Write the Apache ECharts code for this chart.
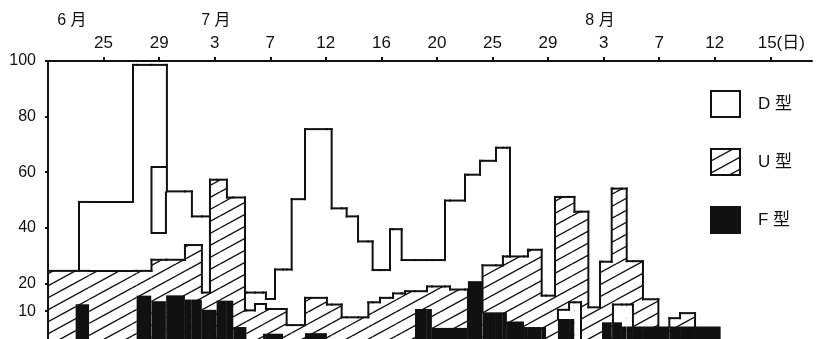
<!DOCTYPE html>
<html><head><meta charset="utf-8">
<script src="https://cdn.jsdelivr.net/npm/echarts@6/dist/echarts.min.js"></script>
<style>html,body{margin:0;padding:0;background:#fff}#c{width:823px;height:339px}</style>
</head><body><div id="c"></div>
<script>
// ---- axis labels (x unit: the figure's evenly spaced time scale, labelled tick every 4 units)
const tickValues = [0, 4, 8, 12, 16, 20, 24, 28, 32, 36, 40, 44, 48];
const tickLabels = ['25', '29', '3', '7', '12', '16', '20', '25', '29', '3', '7', '12', '15(日)'];
const monthValues = [-2.28, 8.09, 35.74];
const monthLabels = ['6 月', '7 月', '8 月'];
const yTickValues = [10, 20, 40, 60, 80, 100];

// ---- D型 (%): step boundaries and values per step (null = none)
const dX = [-1.77, 2.12, 4.56, 6.36, 7.66, 10.18, 11.69, 12.34, 13.54, 14.50, 16.42, 17.50, 18.32, 19.37, 20.62, 21.46, 24.58, 26.02, 27.10, 28.25, 29.26, 32.71, 33.51, 34.37, 36.67, 38.11];
const dV = [49.3, 98.6, 53.1, 44.1, null, 16.7, 14.4, 25.0, 50.3, 75.5, 47.0, 44.1, 35.1, 24.8, 39.5, 28.4, 49.8, 59.1, 64.1, 68.8, null, 10.5, 13.2, null, 12.4];
// overlapping D trace around late June
const dNotchX = [4.56, 3.45, 3.45, 4.49, 4.49];
const dNotchY = [61.9, 61.9, 38.1, 38.1, 53.1];

// ---- U型 (%)
const uX = [-4.0, 3.45, 5.86, 7.08, 7.66, 8.88, 10.18, 10.90, 11.69, 13.18, 14.50, 16.08, 17.14, 19.06, 19.90, 20.84, 21.70, 23.28, 24.94, 26.23, 27.28, 28.75, 30.55, 31.54, 32.50, 33.90, 34.90, 35.74, 36.58, 37.66, 38.83, 39.94, 40.73, 41.50, 42.58];
const uV = [24.5, 28.5, 33.8, 16.7, 57.3, 50.9, 10.3, 12.6, 10.8, 5.0, 14.8, 12.4, 7.8, 13.2, 14.8, 16.4, 17.2, 18.9, 17.8, null, 26.5, 29.7, 32.1, 15.6, 51.1, 45.8, 11.4, 27.8, 54.1, 28.0, 14.3, null, 7.5, 9.3];

// ---- F型 (%)
const fX = [-2.01, -1.03, 2.38, 3.45, 4.49, 5.86, 7.08, 8.14, 9.34, 10.30, 11.48, 12.92, 14.50, 16.08, 22.42, 23.64, 26.23, 27.28, 29.04, 30.27, 31.85, 32.71, 33.90, 35.88, 37.32, 44.38];
const fV = [12.5, null, 15.6, 13.6, 15.7, 14.2, 10.5, 13.8, 4.3, null, 1.9, null, 2.1, null, 10.8, 4.0, 20.8, 9.6, 6.3, 4.3, null, 7.2, null, 6.0, 4.5];

// ---- hatch pattern
function makeHatch() {
  const W = 44, H = 24, s = 12;
  const c = document.createElement('canvas');
  c.width = W; c.height = H;
  const g = c.getContext('2d');
  g.fillStyle = '#fff'; g.fillRect(0, 0, W, H);
  g.strokeStyle = '#111'; g.lineWidth = 1.4;
  for (let k = -2; k <= 3; k++) {
    g.beginPath(); g.moveTo(0, H + s * k); g.lineTo(W, s * k); g.stroke();
  }
  return c;
}
const hatch = { image: makeHatch(), repeat: 'repeat' };

// ---- build elementary steps
function valAt(xs, vs, x) {
  for (let i = 0; i < vs.length; i++) if (x > xs[i] && x < xs[i + 1]) return vs[i];
  return null;
}
const bps = Array.from(new Set([].concat(dX, uX, fX))).sort((a, b) => a - b);
const segs = [];
for (let i = 0; i < bps.length - 1; i++) {
  const m = (bps[i] + bps[i + 1]) / 2;
  segs.push({ a: bps[i], b: bps[i + 1], v: { D: valAt(dX, dV, m), U: valAt(uX, uV, m), F: valAt(fX, fV, m) } });
}
function edgeLines(S) {
  const out = [];
  for (let k = 0; k < bps.length; k++) {
    const L = k > 0 ? segs[k - 1] : null, R = k < segs.length ? segs[k] : null;
    const vl = L && L.v[S] != null ? L.v[S] : 0;
    const vr = R && R.v[S] != null ? R.v[S] : 0;
    if (vl === vr) continue;
    const hi = Math.max(vl, vr), lo = Math.min(vl, vr);
    const side = vl > vr ? L : R;
    let c = 0;
    ['D', 'U', 'F'].forEach(T => {
      if (T === S) return;
      const t = side.v[T];
      if (t != null && t < hi) c = Math.max(c, t);
    });
    const from = Math.max(lo, c);
    if (from < hi) out.push([bps[k], from, hi]);
  }
  return out;
}
const fills = { D: '#fff', U: hatch, F: '#111' };
const lineStyle = { stroke: '#111', lineWidth: 2, lineCap: 'square' };

function renderAll(params, api) {
  const P = (x, y) => api.coord([x, y]);
  const ch = [];
  segs.forEach(s => {
    const order = ['D', 'U', 'F'].filter(k => s.v[k] != null).sort((p, q) => s.v[q] - s.v[p]);
    order.forEach(k => {
      const p0 = P(s.a, s.v[k]), p1 = P(s.b, 0);
      ch.push({ type: 'rect', shape: { x: p0[0], y: p0[1], width: p1[0] - p0[0] + 0.6, height: p1[1] - p0[1] },
        style: { fill: fills[k] } });
    });
  });
  ['U', 'D'].forEach(S => {
    segs.forEach(s => {
      if (s.v[S] == null) return;
      const p0 = P(s.a, s.v[S]), p1 = P(s.b, s.v[S]);
      ch.push({ type: 'line', shape: { x1: p0[0], y1: p0[1], x2: p1[0], y2: p1[1] }, style: lineStyle });
    });
    edgeLines(S).forEach(e => {
      const p0 = P(e[0], e[1]), p1 = P(e[0], e[2]);
      ch.push({ type: 'line', shape: { x1: p0[0], y1: p0[1], x2: p1[0], y2: p1[1] }, style: lineStyle });
    });
  });
  ch.push({ type: 'polyline', shape: { points: dNotchX.map((x, i) => P(x, dNotchY[i])) },
    style: { stroke: '#111', lineWidth: 2, fill: null, lineJoin: 'miter' } });
  return { type: 'group', children: ch };
}

const FONT = "'Liberation Sans', 'Noto Sans CJK JP', sans-serif";
const chart = echarts.init(document.getElementById('c'), null, { renderer: 'canvas' });
chart.setOption({
  animation: false,
  backgroundColor: '#fff',
  grid: { left: 48, top: 61, width: 764, height: 281, containLabel: false },
  xAxis: [{
    type: 'value', position: 'top', min: -4, max: 51, interval: 4,
    axisLine: { onZero: false, lineStyle: { color: '#111', width: 2 } },
    axisTick: { show: true, customValues: tickValues, length: 4, lineStyle: { color: '#111', width: 2 } },
    axisLabel: {
      customValues: tickValues, margin: 9, fontSize: 17, color: '#111', fontFamily: FONT,
      formatter: v => { const i = tickValues.indexOf(Math.round(v)); if (i < 0) return ''; return i === tickLabels.length - 1 ? '{sp|}' + tickLabels[i] : tickLabels[i]; },
      rich: { sp: { width: 22 } }
    },
    splitLine: { show: false }
  }, {
    type: 'value', position: 'top', min: -4, max: 51,
    axisLine: { show: false, onZero: false }, axisTick: { show: false },
    axisLabel: {
      customValues: monthValues, margin: 32, fontSize: 16, color: '#111', fontFamily: FONT,
      formatter: v => { let best = 0; monthValues.forEach((m, i) => { if (Math.abs(m - v) < Math.abs(monthValues[best] - v)) best = i; }); return monthLabels[best]; }
    },
    splitLine: { show: false }
  }],
  yAxis: {
    type: 'value', min: 0, max: 100,
    axisLine: { show: true, onZero: false, lineStyle: { color: '#111', width: 2 } },
    axisTick: { show: true, customValues: yTickValues, length: 3, lineStyle: { color: '#111', width: 2 } },
    axisLabel: { customValues: yTickValues, margin: 12, fontSize: 16, color: '#111', fontFamily: FONT },
    splitLine: { show: false }
  },
  legend: {
    orient: 'vertical', left: 710, top: 90, itemWidth: 29, itemHeight: 26, itemGap: 30, padding: 0,
    selectedMode: false,
    textStyle: { fontSize: 17, color: '#111', fontFamily: FONT, padding: [0, 0, 0, 13] },
    data: [
      { name: 'D 型', icon: 'rect', itemStyle: { color: '#fff', borderColor: '#111', borderWidth: 2 } },
      { name: 'U 型', icon: 'rect', itemStyle: { color: hatch, borderColor: '#111', borderWidth: 2 } },
      { name: 'F 型', icon: 'rect', itemStyle: { color: '#111', borderColor: '#111', borderWidth: 2 } }
    ]
  },
  series: [
    { type: 'custom', name: 'D 型', renderItem: renderAll, data: [[0, 0]], z: 2, silent: true,
      itemStyle: { color: '#fff', borderColor: '#111' } },
    { type: 'custom', name: 'U 型', renderItem: () => null, data: [], itemStyle: { color: hatch } },
    { type: 'custom', name: 'F 型', renderItem: () => null, data: [], itemStyle: { color: '#111' } }
  ]
});
</script>
</body></html>
